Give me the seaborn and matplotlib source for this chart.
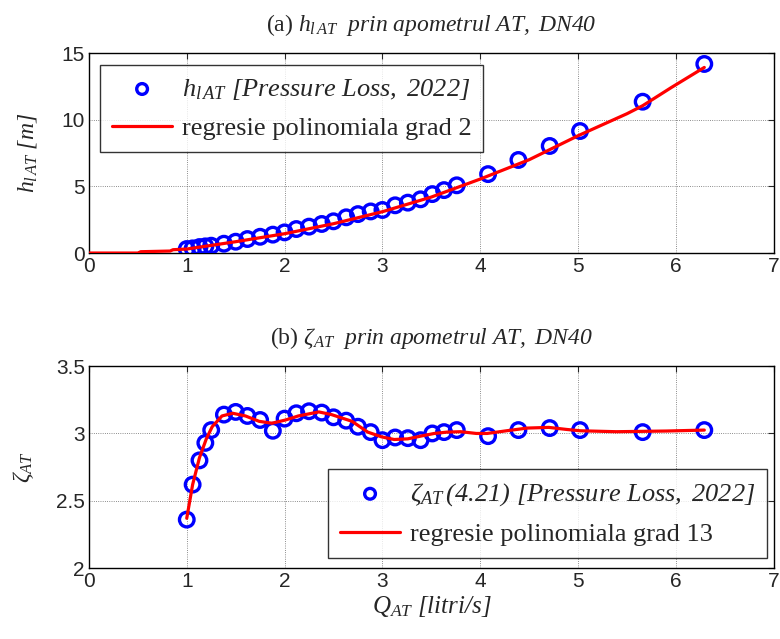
import numpy as np
import pandas as pd
import matplotlib
matplotlib.use("Agg")
import matplotlib.pyplot as plt
import seaborn as sns

# debit masurat Q [litri/s]
q_masurat = [1.00, 1.06, 1.13, 1.19, 1.25, 1.38, 1.50, 1.62, 1.75, 1.88, 2.00, 2.12, 2.25,
             2.38, 2.50, 2.63, 2.75, 2.88, 3.00, 3.13, 3.26, 3.39, 3.51, 3.63, 3.76,
             4.08, 4.39, 4.71, 5.02, 5.66, 6.29]
# pierderi de sarcina h_l [m]
h_masurat = [0.30, 0.35, 0.45, 0.50, 0.55, 0.70, 0.85, 1.05, 1.22, 1.38, 1.55, 1.80, 1.98,
             2.18, 2.38, 2.68, 2.92, 3.12, 3.23, 3.58, 3.78, 4.03, 4.42, 4.72, 5.08,
             5.92, 6.98, 8.03, 9.15, 11.35, 14.18]
# coeficient de pierdere zeta
zeta_masurat = [2.36, 2.62, 2.80, 2.93, 3.025, 3.14, 3.16, 3.13, 3.10, 3.02, 3.11, 3.15, 3.165,
                3.155, 3.12, 3.095, 3.05, 3.01, 2.95, 2.97, 2.965, 2.95, 3.00, 3.01, 3.025,
                2.98, 3.025, 3.04, 3.025, 3.01, 3.025]

# curba de regresie grad 2
q_reg2 = [0.0, 0.50, 0.53, 0.83, 0.86, 1.00, 1.50, 2.00, 2.50, 3.00, 3.50, 4.00, 4.50,
          5.00, 5.50, 5.66, 5.95, 6.29]
h_reg2 = [0.0, 0.0, 0.10, 0.15, 0.25, 0.30, 0.85, 1.45, 2.20, 3.10, 4.20, 5.55, 7.00,
          8.80, 10.45, 11.05, 12.40, 13.92]

# curba de regresie grad 13
q_reg13 = [1.00, 1.06, 1.13, 1.20, 1.26, 1.36, 1.47, 1.60, 1.74, 1.87, 2.01, 2.14, 2.35,
           2.48, 2.69, 2.85, 2.99, 3.12, 3.26, 3.39, 3.53, 3.66, 3.80, 3.96, 4.07,
           4.27, 4.48, 4.70, 4.88, 5.02, 5.39, 5.90, 6.29]
zeta_reg13 = [2.37, 2.62, 2.82, 2.96, 3.05, 3.13, 3.15, 3.13, 3.09, 3.076, 3.10, 3.13, 3.16,
              3.14, 3.09, 3.01, 2.975, 2.955, 2.96, 2.98, 3.00, 3.01, 3.013, 3.00, 3.00,
              3.02, 3.04, 3.045, 3.03, 3.02, 3.013, 3.018, 3.025]

date = pd.DataFrame({"Q": q_masurat, "h": h_masurat, "zeta": zeta_masurat})
reg2 = pd.DataFrame({"Q": q_reg2, "h": h_reg2})
reg13 = pd.DataFrame({"Q": q_reg13, "zeta": zeta_reg13})

sns.set_style("white")
plt.rcParams["font.family"] = ["Liberation Serif", "DejaVu Serif"]
# tot textul matematic e italic (ca in MATLAB)
plt.rcParams["mathtext.fontset"] = "custom"
plt.rcParams["mathtext.rm"] = "Liberation Serif:italic"
plt.rcParams["mathtext.it"] = "Liberation Serif:italic"
plt.rcParams["mathtext.bf"] = "Liberation Serif:bold"

fig = plt.figure(figsize=(7.8, 6.39), dpi=100)
ax1 = fig.add_axes([0.114, 0.604, 0.878, 0.313])
ax2 = fig.add_axes([0.114, 0.111, 0.878, 0.316])

# (a) pierderi de sarcina
sns.scatterplot(data=date, x="Q", y="h", ax=ax1, marker="o", s=110, facecolor="none",
                edgecolor="blue", linewidth=2.4, zorder=3,
                label=r"$h_{l\,AT}\ [Pressure\ Loss,\ 2022]$")
sns.lineplot(data=reg2, x="Q", y="h", ax=ax1, color="red", linewidth=2.3, sort=False,
             estimator=None, zorder=4, label="regresie polinomiala grad 2")
ax1.set_xlim(0, 7)
ax1.set_ylim(0, 15)
ax1.set_yticks([0, 5, 10, 15])
ax1.set_title(r"(a) $h_{l\,AT}\ \ prin\ apometrul\ AT,\ DN40$", fontsize=17, pad=16)
ax1.set_xlabel("")
ax1.set_ylabel(r"$h_{l\,AT}\ [m]$", fontsize=17, labelpad=16)
leg1 = ax1.legend(loc="upper left", bbox_to_anchor=(0.016, 0.94), borderaxespad=0,
                  fontsize=19, frameon=True, fancybox=False, edgecolor="black",
                  handlelength=2.3, handletextpad=0.35, borderpad=0.45, labelspacing=0.55)
leg1.get_frame().set_linewidth(1.0)

# (b) coeficient de pierdere
sns.scatterplot(data=date, x="Q", y="zeta", ax=ax2, marker="o", s=110, facecolor="none",
                edgecolor="blue", linewidth=2.4, zorder=3,
                label=r"$\zeta_{AT}\,(4.21)\ [Pressure\ Loss,\ 2022]$")
sns.lineplot(data=reg13, x="Q", y="zeta", ax=ax2, color="red", linewidth=2.3, sort=False,
             estimator=None, zorder=4, label="regresie polinomiala grad 13")
ax2.set_xlim(0, 7)
ax2.set_ylim(2, 3.5)
ax2.set_yticks([2, 2.5, 3, 3.5])
ax2.set_yticklabels(["2", "2.5", "3", "3.5"])
ax2.set_title(r"(b) $\zeta_{AT}\ \ prin\ apometrul\ AT,\ DN40$", fontsize=17, pad=16)
ax2.set_xlabel(r"$Q_{AT}\ [litri/s]$", fontsize=18, labelpad=2)
ax2.set_ylabel(r"$\zeta_{AT}$", fontsize=17, labelpad=14)
leg2 = ax2.legend(loc="lower right", bbox_to_anchor=(0.99, 0.05), borderaxespad=0,
                  fontsize=19, frameon=True, fancybox=False, edgecolor="black",
                  handlelength=2.3, handletextpad=0.35, borderpad=0.45, labelspacing=0.55)
leg2.get_frame().set_linewidth(1.0)

for leg in (leg1, leg2):
    leg.legend_handles[0].set_sizes([60])

for ax in (ax1, ax2):
    ax.set_xticks(range(0, 8))
    ax.grid(True, color="black", linestyle=":", linewidth=0.6, alpha=0.6)
    ax.tick_params(direction="in", length=4, width=0.8, top=True, right=True,
                   labelsize=15, pad=3)
    for lbl in ax.get_xticklabels() + ax.get_yticklabels():
        lbl.set_fontfamily("Liberation Sans")
    for sp in ax.spines.values():
        sp.set_color("black")
        sp.set_linewidth(1.0)

fig.savefig("out.png", dpi=100)
